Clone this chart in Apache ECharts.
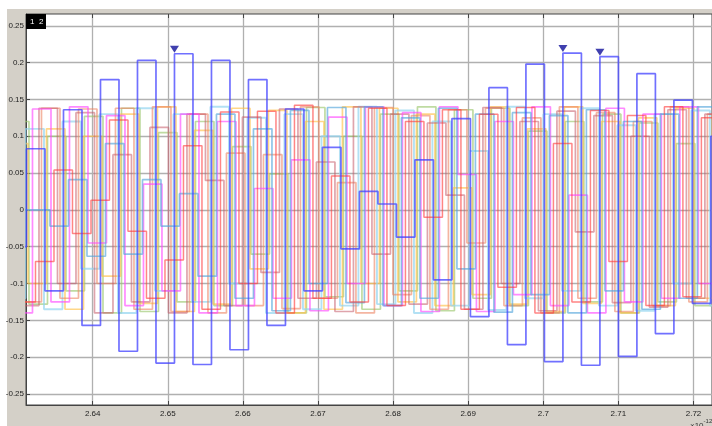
<!DOCTYPE html>
<html><head><meta charset="utf-8">
<script src="https://cdn.jsdelivr.net/npm/echarts@6/dist/echarts.min.js"></script>
<style>
html,body{margin:0;padding:0;background:#fff;width:712px;height:426px;overflow:hidden;}
#bg{position:absolute;left:7px;top:9px;width:705px;height:417px;background:#d4d0c8;}
#c{position:absolute;left:0;top:0;width:712px;height:426px;}
</style></head><body><div id="bg"></div><div id="c"></div>
<script>
// ---- data ----
const xTicks = [2.64, 2.65, 2.66, 2.67, 2.68, 2.69, 2.7, 2.71, 2.72];
const yTicks = [-0.25, -0.2, -0.15, -0.1, -0.05, 0, 0.05, 0.1, 0.15, 0.2, 0.25];
const xRange = [2.631119, 2.722463];
const yRange = [-0.265, 0.266];
const symbolPeriod = 0.002463;

const blueStart = 2.628722;
const blueVals = [-0.05, 0.083, -0.11, 0.136, -0.157, 0.177, -0.192, 0.203, -0.208, 0.212, -0.21, 0.203, -0.19, 0.177, -0.157, 0.137, -0.11, 0.085, -0.053, 0.025, 0.008, -0.037, 0.068, -0.095, 0.124, -0.145, 0.166, -0.183, 0.198, -0.206, 0.213, -0.211, 0.208, -0.199, 0.185, -0.168, 0.149, -0.127, 0.1];
const blueMarkIdx = [9, 30, 32];

const redStart = 2.627457;
const redVals = [0.12, -0.125, -0.07, 0.054, -0.032, 0.013, 0.122, -0.029, -0.12, -0.068, 0.087, -0.135, 0.133, -0.1, 0.134, -0.14, 0.142, -0.12, 0.046, -0.125, 0.138, -0.13, 0.12, -0.01, 0.136, -0.135, 0.13, -0.105, 0.139, -0.14, 0.09, -0.125, 0.135, -0.07, 0.128, -0.13, 0.14, -0.118, 0.125, -0.13];

const mauveStart = 2.625459;
const mauveVals = [-0.12, 0.122, -0.13, 0.138, -0.1, 0.132, -0.14, 0.075, -0.125, 0.112, -0.14, 0.13, 0.04, -0.13, 0.126, -0.085, 0.137, -0.12, 0.065, -0.138, 0.14, -0.06, 0.13, -0.128, 0.118, 0.02, -0.135, 0.139, -0.1, 0.12, -0.137, 0.134, -0.03, 0.128, -0.126, 0.1, -0.132, 0.136, -0.12, 0.13];

const lightBlueStart = 2.626924;
const lightBlueVals = [0.0, 0.0, 0.0, -0.022, 0.041, -0.063, 0.09, -0.06, 0.041, -0.022, 0.022, -0.09, 0.13, -0.12, 0.11, -0.137, 0.135, -0.1, 0.139, -0.126, 0.14, -0.13, 0.125, -0.12, 0.138, -0.08, 0.13, -0.139, 0.132, -0.115, 0.128, -0.14, 0.136, -0.11, 0.12, -0.135, 0.13, -0.12, 0.14, -0.12];

const cyanStart = 2.626125;
const cyanVals = [0.13, -0.12, 0.11, -0.135, 0.12, -0.08, 0.13, -0.14, 0.138, -0.11, 0.13, -0.125, 0.14, -0.1, 0.125, -0.14, 0.13, -0.135, 0.1, -0.13, 0.14, -0.128, 0.135, -0.14, 0.12, -0.13, 0.08, -0.136, 0.14, -0.12, 0.13, -0.11, 0.138, -0.13, 0.115, -0.137, 0.13, -0.1, 0.135, -0.13];

const pinkStart = 2.627057;
const pinkVals = [0.14, -0.14, 0.137, -0.125, 0.14, -0.045, 0.128, -0.13, 0.035, -0.11, 0.13, -0.14, 0.12, -0.13, 0.029, -0.12, 0.068, -0.137, 0.126, -0.1, 0.14, -0.13, 0.132, -0.138, 0.14, 0.048, -0.138, 0.12, -0.115, 0.14, -0.13, 0.02, -0.14, 0.138, -0.125, 0.13, -0.12, 0.14, -0.1, 0.135];

const salmonStart = 2.625792;
const salmonVals = [-0.13, 0.12, -0.125, 0.138, -0.12, 0.137, -0.1, 0.138, -0.135, 0.14, -0.138, 0.13, -0.14, 0.077, -0.13, 0.075, -0.134, 0.14, -0.12, 0.037, -0.14, 0.139, -0.115, 0.128, -0.135, 0.136, -0.045, 0.138, -0.13, 0.125, -0.14, 0.14, -0.12, 0.132, -0.138, 0.12, -0.13, 0.14, -0.125, 0.13];

const yellowStart = 2.626458;
const yellowVals = [-0.12, 0.09, -0.1, 0.11, -0.135, 0.1, -0.09, 0.13, -0.127, 0.14, -0.138, 0.108, -0.128, 0.138, -0.08, 0.135, -0.14, 0.12, -0.135, 0.14, -0.1, 0.138, -0.125, 0.13, -0.13, 0.03, -0.115, 0.14, -0.128, 0.11, -0.138, 0.14, -0.127, 0.12, -0.14, 0.125, -0.13, 0.138, -0.12, 0.13];

const greenStart = 2.626591;
const greenVals = [-0.08, 0.12, -0.128, 0.1, -0.11, 0.127, -0.14, 0.138, -0.138, 0.105, -0.125, 0.12, -0.13, 0.086, -0.06, 0.049, -0.14, 0.139, -0.118, 0.1, -0.135, 0.13, -0.11, 0.14, -0.137, 0.136, -0.12, 0.138, -0.13, 0.107, -0.14, 0.12, -0.125, 0.13, -0.14, 0.118, -0.125, 0.09, -0.13, 0.12];

// ---- build ----
function steps(x0, vals) {
  const d = vals.map((v, k) => [x0 + k * symbolPeriod, v]);
  d.push([x0 + vals.length * symbolPeriod, vals[vals.length - 1]]);
  return d;
}
function stepSeries(name, x0, vals, color, width, opacity) {
  return {
    name, type: 'line', step: 'end', data: steps(x0, vals),
    symbol: 'none', showSymbol: false, clip: true, silent: true,
    lineStyle: { color, width, opacity }
  };
}
const FONT = 'Liberation Sans';
const chart = echarts.init(document.getElementById('c'), null, { renderer: 'canvas' });
const series = [
  stepSeries('green', greenStart, greenVals, '#9cc870', 1.7, 0.65),
  stepSeries('yellow', yellowStart, yellowVals, '#ffc24a', 1.7, 0.65),
  stepSeries('cyan', cyanStart, cyanVals, '#93d4f0', 1.9, 0.7),
  stepSeries('salmon', salmonStart, salmonVals, '#ec8462', 1.7, 0.6),
  stepSeries('mauve', mauveStart, mauveVals, '#c45a68', 1.7, 0.55),
  stepSeries('pink', pinkStart, pinkVals, '#ff4cff', 1.7, 0.65),
  stepSeries('lightblue', lightBlueStart, lightBlueVals, '#55a6dc', 1.7, 0.65),
  stepSeries('red', redStart, redVals, '#ff3a3a', 1.5, 0.62),
  stepSeries('blue', blueStart, blueVals, '#4040ff', 1.7, 0.75),
  {
    name: 'cursor', type: 'scatter', symbol: 'triangle', symbolRotate: 180,
    symbolSize: [9, 7], silent: true,
    itemStyle: { color: '#10109a' },
    data: blueMarkIdx.map(i => [blueStart + i * symbolPeriod, blueVals[i] + 0.006])
  }
];
chart.setOption({
  animation: false,
  backgroundColor: 'transparent',
  grid: { left: 26, top: 14, right: 0, bottom: 21, containLabel: false, outerBoundsMode: 'none',
          show: true, backgroundColor: '#ffffff', borderColor: '#444', borderWidth: 1 },
  xAxis: [{
    type: 'value', min: xRange[0], max: xRange[1], minInterval: 0.01, maxInterval: 0.01,
    axisLine: { show: true, onZero: false, lineStyle: { color: '#444' } },
    axisTick: { show: true, inside: true, length: 4, lineStyle: { color: '#444' }, customValues: xTicks },
    axisLabel: { color: '#222', fontSize: 8, fontFamily: FONT, margin: 5, customValues: xTicks },
    splitLine: { show: true, lineStyle: { color: '#b0b0b0', width: 1.3 } }
  }, {
    type: 'value', position: 'top', min: xRange[0], max: xRange[1], minInterval: 0.01, maxInterval: 0.01,
    axisLine: { show: false, onZero: false },
    axisTick: { show: true, inside: true, length: 4, lineStyle: { color: '#444' }, customValues: xTicks },
    axisLabel: { show: false },
    splitLine: { show: false }
  }],
  yAxis: {
    type: 'value', min: yRange[0], max: yRange[1], minInterval: 0.05, maxInterval: 0.05,
    axisLine: { show: true, onZero: false, lineStyle: { color: '#444' } },
    axisTick: { show: true, inside: true, length: 4, lineStyle: { color: '#444' }, customValues: yTicks },
    axisLabel: { color: '#222', fontSize: 8, fontFamily: FONT, margin: 2, customValues: yTicks },
    splitLine: { show: true, lineStyle: { color: '#b0b0b0', width: 1.3 } }
  },
  graphic: [
    { type: 'rect', left: 26, top: 14, z: 100, shape: { width: 20, height: 15 }, style: { fill: '#000' } },
    { type: 'text', left: 30, top: 18, z: 101, style: { text: '1  2', fill: '#fff', font: '8px ' + FONT } },
    { type: 'text', left: 690, top: 418, z: 101, style: {
        text: '{a|×10}{b|-12}',
        rich: { a: { fontSize: 8, fontFamily: FONT, fill: '#333', verticalAlign: 'bottom' },
                b: { fontSize: 6, fontFamily: FONT, fill: '#333', verticalAlign: 'top', padding: [0, 0, 6, 0] } }
    } }
  ],
  series
});
</script></body></html>
